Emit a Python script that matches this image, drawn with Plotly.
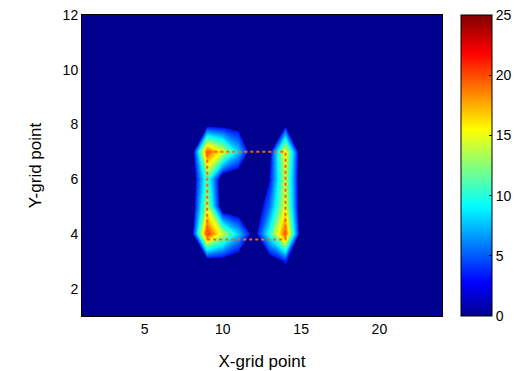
import plotly.graph_objects as go

# Grid coordinates
x_grid = list(range(1, 25))
y_grid = list(range(1, 13))

# Field values, one row per Y-grid point (y = 1 .. 12), columns x = 1 .. 24
z_rows = [
    [0] * 24,
    [0] * 24,
    [0, 0, 0, 0, 0, 0, 0, 0, 1.0, 1.5, 0.5, 0, 1.0, 3.5, 0, 0, 0, 0, 0, 0, 0, 0, 0, 0],
    [0, 0, 0, 0, 0, 0, 0, 1.0, 21, 14, 8, 1.5, 10, 20, 0.5, 0, 0, 0, 0, 0, 0, 0, 0, 0],
    [0, 0, 0, 0, 0, 0, 0, 0, 14, 0, 0, 0, 5.5, 15, 0, 0, 0, 0, 0, 0, 0, 0, 0, 0],
    [0, 0, 0, 0, 0, 0, 0, 0, 11, 0, 0, 0, 3.0, 14, 0, 0, 0, 0, 0, 0, 0, 0, 0, 0],
    [0, 0, 0, 0, 0, 0, 0, 0, 20, 15, 8, 0, 2.0, 16, 0, 0, 0, 0, 0, 0, 0, 0, 0, 0],
    [0, 0, 0, 0, 0, 0, 0, 0, 1.5, 1.5, 1.5, 0, 0, 2.0, 0, 0, 0, 0, 0, 0, 0, 0, 0, 0],
    [0] * 24,
    [0] * 24,
    [0] * 24,
    [0] * 24,
]

# Outline of the marked region
box_x = [9, 14, 14, 9, 9]
box_y = [3.8, 3.8, 7, 7, 3.8]

# Colour bar tick values and lowest filled contour level
cbar_ticks = [0, 5, 10, 15, 20, 25]
z_min, z_max = 0, 25
lowest_level = 3.0

# MATLAB-style jet colour map (64 entries, key stops)
jet_stops = [
    (0.0, (0, 0, 143)),
    (7 / 63, (0, 0, 255)),
    (23 / 63, (0, 255, 255)),
    (39 / 63, (255, 255, 0)),
    (55 / 63, (255, 0, 0)),
    (1.0, (128, 0, 0)),
]


def rgb(c):
    return "rgb(%d,%d,%d)" % tuple(int(round(v)) for v in c)


def jet_at(f):
    for (f0, c0), (f1, c1) in zip(jet_stops[:-1], jet_stops[1:]):
        if f0 <= f <= f1:
            a = (f - f0) / (f1 - f0)
            return tuple(c0[i] + a * (c1[i] - c0[i]) for i in range(3))
    return jet_stops[-1][1]


jet = [[f, rgb(c)] for f, c in jet_stops]

# Fill colours: everything under the lowest level stays at the base colour
f_low = (lowest_level - z_min) / (z_max - z_min)
fill_scale = [[0.0, rgb(jet_stops[0][1])], [f_low - 1e-4, rgb(jet_stops[0][1])],
              [f_low, rgb(jet_at(f_low))]]
fill_scale += [[f, rgb(c)] for f, c in jet_stops if f > f_low]

W, H = 524, 371
L, R, T, B = 82, 82, 15, 55
FONT = "Liberation Sans, Arial, sans-serif"
PW = W - L - R

fig = go.Figure()
fig.add_trace(go.Contour(
    x=x_grid, y=y_grid, z=z_rows,
    colorscale=fill_scale, zmin=z_min, zmax=z_max, zauto=False,
    contours=dict(start=z_min, end=z_max, size=(z_max - z_min) / 64, coloring="fill"),
    line=dict(width=0, smoothing=0),
    showscale=False,
    hoverinfo="skip",
))

fig.add_trace(go.Scatter(
    x=box_x, y=box_y, mode="lines",
    line=dict(color="rgb(255,100,0)", width=2, dash="dot"),
    showlegend=False, hoverinfo="skip",
))

# Continuous colour bar carried by an invisible marker trace
fig.add_trace(go.Scatter(
    x=[None, None], y=[None, None], mode="markers",
    marker=dict(
        color=[z_min, z_max], cmin=z_min, cmax=z_max, colorscale=jet,
        showscale=True,
        colorbar=dict(
            x=(461 - L) / PW, xanchor="left",
            y=0, yanchor="bottom", len=1, lenmode="fraction",
            thickness=31, xpad=0, ypad=0,
            outlinecolor="black", outlinewidth=1,
            tickvals=cbar_ticks, ticks="inside", ticklen=3, tickcolor="black",
            tickfont=dict(family=FONT, size=14, color="black"),
        ),
    ),
    showlegend=False, hoverinfo="skip",
))

# Tick marks on the left edge of the colour bar
cb_left = (461 - L) / PW
for v in cbar_ticks[1:-1]:
    yy = (v - z_min) / (z_max - z_min)
    fig.add_shape(type="line", xref="paper", yref="paper",
                  x0=cb_left, x1=cb_left + 3 / PW, y0=yy, y1=yy,
                  line=dict(color="black", width=1))

fig.update_layout(
    width=W, height=H,
    margin=dict(l=L, r=R, t=T, b=B, autoexpand=False),
    paper_bgcolor="white", plot_bgcolor="white",
    font=dict(family=FONT, size=14, color="black"),
    showlegend=False,
    xaxis=dict(
        range=[1, 24], tickvals=[5, 10, 15, 20], ticks="",
        showline=True, linecolor="black", linewidth=1, mirror=True,
        showgrid=False, zeroline=False, automargin=False,
        title=dict(text="X-grid point", standoff=19),
    ),
    yaxis=dict(
        range=[1, 12], tickvals=[2, 4, 6, 8, 10, 12], ticks="",
        showline=True, linecolor="black", linewidth=1, mirror=True,
        showgrid=False, zeroline=False, automargin=False,
        title=dict(text="Y-grid point", standoff=16),
    ),
)

fig.write_html("out.html")
